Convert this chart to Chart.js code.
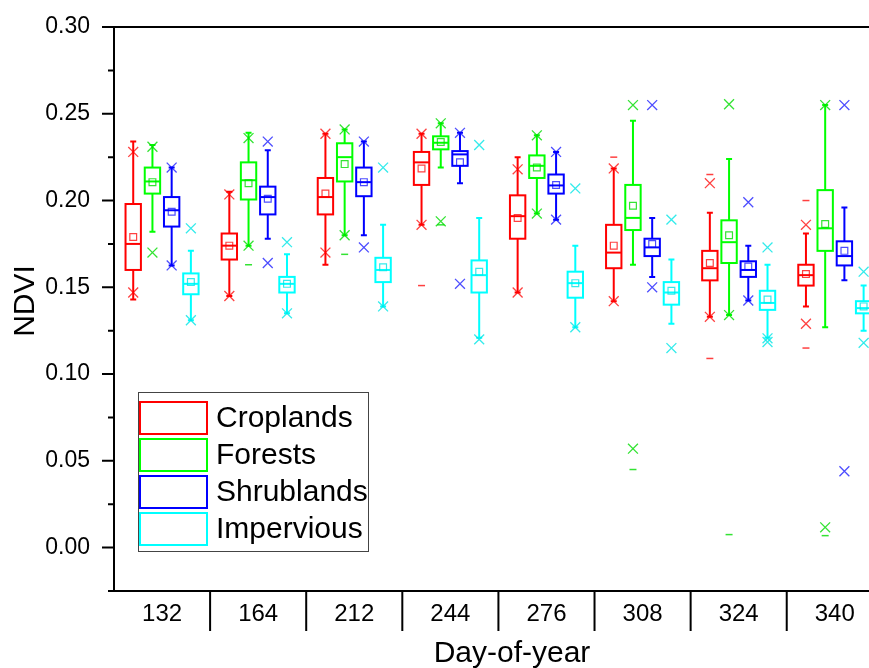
<!DOCTYPE html>
<html><head><meta charset="utf-8">
<script src="https://cdn.jsdelivr.net/npm/chart.js@4.4.0/dist/chart.umd.min.js"></script>
<style>html,body{margin:0;padding:0;background:#fff;overflow:hidden}canvas{display:block}</style>
</head><body>
<canvas id="c" width="869" height="668"></canvas>
<script>
const days = ['132','164','212','244','276','308','324','340'];
const seriesNames = ['Croplands','Forests','Shrublands','Impervious'];
const seriesColors = ['#ff0000','#00ff00','#0000ff','#00ffff'];
const markerColors = ['rgba(255,0,0,0.75)','rgba(0,220,0,0.8)','rgba(0,0,255,0.7)','rgba(0,230,230,0.8)'];
const yTickValues = [0, 0.05, 0.10, 0.15, 0.20, 0.25, 0.30];
const yMinorValues = [-0.025, 0.025, 0.075, 0.125, 0.175, 0.225, 0.275];

// each entry: [whisker low, Q1, median, Q3, whisker high]
const cropBox = [[0.143,0.160,0.175,0.198,0.234],[0.145,0.166,0.174,0.181,0.205],[0.163,0.192,0.202,0.213,0.2385],[0.186,0.209,0.222,0.228,0.2385],[0.147,0.178,0.191,0.203,0.225],[0.142,0.161,0.170,0.186,0.2185],[0.133,0.154,0.161,0.171,0.193],[0.139,0.151,0.157,0.163,0.181]];
const cropMean = [0.179,0.174,0.204,0.2185,0.190,0.174,0.164,0.1576];
const cropCross = [[0.228,0.147],[0.2035,0.145],[0.2385,0.170],[0.2385,0.186],[0.218,0.147],[0.2185,0.142],[0.210,0.133],[0.186,0.129]];
const cropDash = [[],[],[],[0.151],[],[0.225],[0.215,0.109],[0.200,0.115]];

const forestBox = [[0.182,0.204,0.211,0.219,0.232],[0.174,0.2006,0.2117,0.222,0.239],[0.180,0.211,0.225,0.233,0.241],[0.219,0.2295,0.2333,0.237,0.2445],[0.1925,0.213,0.220,0.226,0.2376],[0.163,0.183,0.190,0.209,0.246],[0.134,0.164,0.176,0.1886,0.224],[0.127,0.171,0.184,0.206,0.255]];
const forestMean = [0.2106,0.210,0.221,0.2337,0.219,0.197,0.180,0.1865];
const forestCross = [[0.231,0.170],[0.236,0.174],[0.241,0.180],[0.2445,0.188],[0.2376,0.1925],[0.255,0.057],[0.2555,0.134],[0.255,0.0117]];
const forestDash = [[],[0.163],[0.169],[0.186],[],[0.045],[0.0075],[0.0069]];

const shrubBox = [[0.1626,0.185,0.1944,0.202,0.219],[0.178,0.192,0.202,0.208,0.229],[0.180,0.2025,0.2106,0.219,0.234],[0.210,0.220,0.2266,0.2285,0.239],[0.189,0.204,0.2087,0.215,0.228],[0.156,0.168,0.173,0.178,0.190],[0.1424,0.156,0.160,0.165,0.174],[0.154,0.1626,0.168,0.1765,0.196]];
const shrubMean = [0.1935,0.201,0.2106,0.222,0.209,0.175,0.162,0.171];
const shrubCross = [[0.219,0.1626],[0.234,0.164],[0.234,0.173],[0.239,0.152],[0.228,0.189],[0.255,0.150],[0.199,0.1424],[0.255,0.044]];
const shrubDash = [[],[],[],[],[],[],[],[]];

const impBox = [[0.131,0.146,0.152,0.158,0.171],[0.135,0.147,0.152,0.156,0.169],[0.139,0.153,0.160,0.167,0.186],[0.121,0.147,0.157,0.1655,0.190],[0.127,0.144,0.1524,0.159,0.174],[0.129,0.140,0.147,0.153,0.166],[0.121,0.137,0.141,0.148,0.163],[0.125,0.135,0.138,0.142,0.151]];
const impMean = [0.153,0.152,0.1615,0.159,0.1524,0.148,0.143,0.139];
const impCross = [[0.184,0.131],[0.176,0.135],[0.219,0.139],[0.232,0.120],[0.207,0.127],[0.189,0.115],[0.173,0.1206,0.1185],[0.159,0.118]];
const impDash = [[],[],[],[],[],[],[],[]];

const allBoxes = [cropBox, forestBox, shrubBox, impBox];
const allMeans = [cropMean, forestMean, shrubMean, impMean];
const allCross = [cropCross, forestCross, shrubCross, impCross];
const allDash = [cropDash, forestDash, shrubDash, impDash];
const offsets = [-0.3, -0.1, 0.1, 0.3];
const boxWidth = 0.16;
const FONT = "'Liberation Sans', Arial, sans-serif";

const datasets = [];
seriesNames.forEach((name, s) => {
  const cross = [], dash = [], mean = [];
  days.forEach((d, i) => {
    allCross[s][i].forEach(v => cross.push({x: i + offsets[s], y: v}));
    allDash[s][i].forEach(v => dash.push({x: i + offsets[s], y: v}));
    mean.push({x: i + offsets[s], y: allMeans[s][i]});
  });
  datasets.push({label: name + ' 1/99%', data: cross, pointStyle: 'crossRot', pointRadius: 7, borderColor: markerColors[s], borderWidth: 1.3, backgroundColor: 'rgba(0,0,0,0)', showLine: false});
  datasets.push({label: name + ' min/max', data: dash, pointStyle: 'line', pointRadius: 3.5, borderColor: markerColors[s], borderWidth: 1.5, backgroundColor: 'rgba(0,0,0,0)', showLine: false});
  datasets.push({label: name + ' mean', data: mean, pointStyle: 'rect', pointRadius: 4.8, borderColor: markerColors[s], borderWidth: 1.2, backgroundColor: 'rgba(0,0,0,0)', showLine: false});
});

const boxPlugin = {
  id: 'boxes',
  beforeDatasetsDraw(chart) {
    const ctx = chart.ctx, xs = chart.scales.x, ys = chart.scales.y;
    const hw = (xs.getPixelForValue(boxWidth) - xs.getPixelForValue(0)) / 2;
    ctx.save();
    ctx.beginPath();
    ctx.rect(chart.chartArea.left, chart.chartArea.top, chart.chartArea.right - chart.chartArea.left, chart.chartArea.bottom - chart.chartArea.top);
    ctx.clip();
    ctx.lineWidth = 2;
    allBoxes.forEach((boxes, s) => {
      ctx.strokeStyle = seriesColors[s];
      boxes.forEach((b, i) => {
        const xc = xs.getPixelForValue(i + offsets[s]);
        const [lo, q1, md, q3, hi] = b.map(v => ys.getPixelForValue(v));
        ctx.beginPath();
        ctx.moveTo(xc, lo); ctx.lineTo(xc, q1);
        ctx.moveTo(xc, q3); ctx.lineTo(xc, hi);
        ctx.moveTo(xc - 3, lo); ctx.lineTo(xc + 3, lo);
        ctx.moveTo(xc - 3, hi); ctx.lineTo(xc + 3, hi);
        ctx.stroke();
        ctx.strokeRect(xc - hw, q3, 2 * hw, q1 - q3);
        ctx.beginPath();
        ctx.moveTo(xc - hw, md); ctx.lineTo(xc + hw, md);
        ctx.stroke();
      });
    });
    ctx.restore();
  },
  afterDraw(chart) {
    const ctx = chart.ctx, xs = chart.scales.x, ys = chart.scales.y, ca = chart.chartArea;
    ctx.save();
    ctx.strokeStyle = '#000';
    ctx.lineWidth = 2;
    ctx.beginPath();
    yTickValues.forEach(v => { const y = ys.getPixelForValue(v); ctx.moveTo(ca.left - 12, y); ctx.lineTo(ca.left, y); });
    yMinorValues.forEach(v => { const y = ys.getPixelForValue(v); ctx.moveTo(ca.left - 6, y); ctx.lineTo(ca.left, y); });
    for (let i = 0; i < days.length - 1; i++) {
      const x = xs.getPixelForValue(i + 0.5);
      ctx.moveTo(x, ca.bottom); ctx.lineTo(x, ca.bottom + 40);
    }
    const yt = ys.getPixelForValue(0.30);
    ctx.moveTo(ca.left, yt); ctx.lineTo(chart.width, yt);
    ctx.stroke();

    // axis titles
    ctx.fillStyle = '#000';
    ctx.font = '30px ' + FONT;
    ctx.textAlign = 'center';
    ctx.textBaseline = 'alphabetic';
    ctx.fillText('Day-of-year', 512, 662);
    ctx.save();
    ctx.translate(33.5, 301);
    ctx.rotate(-Math.PI / 2);
    ctx.font = '30px ' + FONT;
    ctx.fillText('NDVI', 0, 0);
    ctx.restore();

    // legend
    ctx.lineWidth = 1;
    ctx.strokeStyle = '#444';
    ctx.strokeRect(138.5, 392.5, 230, 159);
    const rowTops = [402, 439, 476, 513];
    ctx.font = '30px ' + FONT;
    ctx.textAlign = 'left';
    ctx.textBaseline = 'middle';
    seriesNames.forEach((n, s) => {
      ctx.strokeStyle = seriesColors[s];
      ctx.lineWidth = 2;
      ctx.strokeRect(140, rowTops[s], 67, 32);
      ctx.fillStyle = '#000';
      ctx.fillText(n, 216, rowTops[s] + 17);
    });
    ctx.restore();
  }
};

new Chart(document.getElementById('c'), {
  type: 'scatter',
  data: { datasets },
  plugins: [boxPlugin],
  options: {
    responsive: false,
    animation: false,
    devicePixelRatio: 1,
    layout: { autoPadding: false, padding: { top: 27, right: 0, bottom: 0, left: 0 } },
    plugins: { legend: { display: false }, tooltip: { enabled: false } },
    scales: {
      x: {
        type: 'linear', min: -0.5, max: 7.356,
        afterBuildTicks: s => { s.ticks = days.map((d, i) => ({ value: i })); },
        afterFit: s => { s.height = 77; s.paddingLeft = 0; s.paddingRight = 0; },
        ticks: { autoSkip: false, maxRotation: 0, padding: 1, color: '#000', font: { family: FONT, size: 24 }, callback: v => days[Math.round(v)] },
        grid: { display: false },
        border: { display: true, color: '#000', width: 2 }
      },
      y: {
        type: 'linear', min: -0.025, max: 0.30,
        afterBuildTicks: s => { s.ticks = yTickValues.map(v => ({ value: v })); },
        afterFit: s => { s.width = 114; s.paddingTop = 0; s.paddingBottom = 0; },
        ticks: { padding: 16, color: '#000', font: { family: FONT, size: 23 }, callback: v => Number(v).toFixed(2) },
        grid: { display: false },
        border: { display: true, color: '#000', width: 2 }
      }
    }
  }
});
</script>
</body></html>
